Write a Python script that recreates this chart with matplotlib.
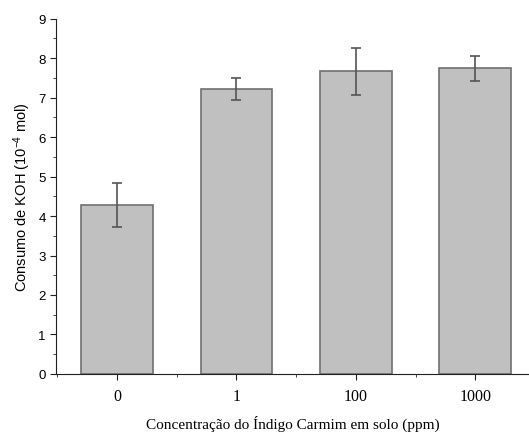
import matplotlib
matplotlib.use('Agg')
import matplotlib.pyplot as plt
from matplotlib.ticker import MultipleLocator

# dados
categorias = ['0', '1', '100', '1000']
consumo = [4.28, 7.23, 7.67, 7.74]
erro = [0.56, 0.28, 0.60, 0.31]

plt.rcParams['mathtext.fontset'] = 'custom'
plt.rcParams['mathtext.rm'] = 'Liberation Sans'
plt.rcParams['mathtext.it'] = 'Liberation Sans'

fig = plt.figure(figsize=(5.29, 4.39), dpi=100)
ax = fig.add_axes([0.106, 0.146, 0.894, 0.809])

x = range(len(categorias))
ax.bar(x, consumo, width=0.6, color='#c0c0c0', edgecolor='#707070', linewidth=1.2)
ax.errorbar(x, consumo, yerr=erro, fmt='none', ecolor='#555555', elinewidth=1.2,
            capsize=3.5, capthick=1.2)

ax.set_xlim(-0.51, 3.45)
ax.set_ylim(0, 9)
ax.set_xticks(list(x))
ax.set_xticklabels(categorias, family='Liberation Serif', fontsize=11.5)
ax.xaxis.set_minor_locator(MultipleLocator(0.5))
ax.yaxis.set_major_locator(MultipleLocator(1))
ax.yaxis.set_minor_locator(MultipleLocator(0.5))
for lab in ax.get_yticklabels():
    lab.set_family('Liberation Sans')
    lab.set_fontsize(9.5)

ax.spines['top'].set_visible(False)
ax.spines['right'].set_visible(False)
ax.spines['left'].set_color('#222222')
ax.spines['bottom'].set_color('#222222')
ax.tick_params(which='major', direction='out', length=4, color='#222222')
ax.tick_params(which='minor', direction='out', length=2.5, color='#222222')
ax.tick_params(axis='x', pad=6)

ax.set_ylabel('Consumo de KOH (10$^{\\mathrm{-4}}$ mol)', family='Liberation Sans', fontsize=10.5)
ax.set_xlabel('Concentração do Índigo Carmim em solo (ppm)', family='Liberation Serif',
              fontsize=11, labelpad=8)

fig.savefig('out.png', dpi=100)
